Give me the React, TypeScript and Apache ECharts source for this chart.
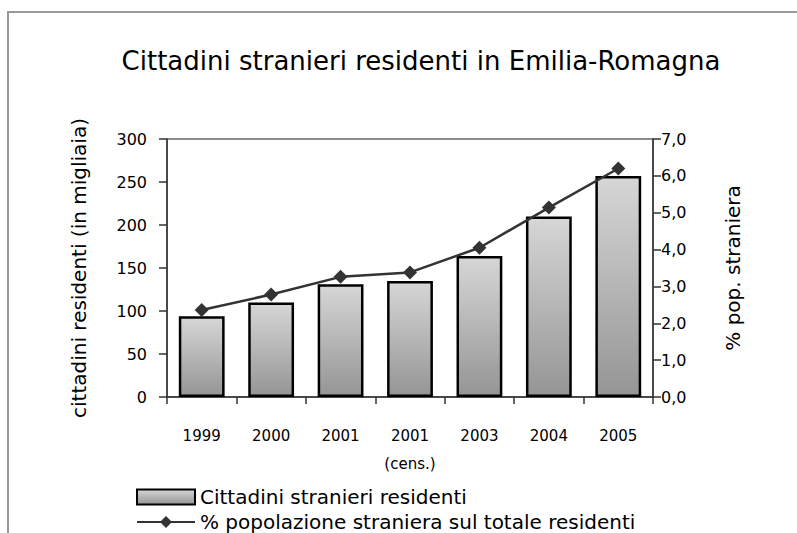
import React, { useEffect, useRef } from "react";
import * as echarts from "echarts";

const categories = ["1999", "2000", "2001", "2001\n(cens.)", "2003", "2004", "2005"];
const residents = [94, 110, 131, 135, 164, 210, 257];
const percent = [2.36, 2.78, 3.26, 3.38, 4.05, 5.14, 6.2];
const leftTicks = { min: 0, max: 300, interval: 50 };
const rightTicks = { min: 0, max: 7, interval: 1 };
const titleText = "Cittadini stranieri residenti in Emilia-Romagna";
const barName = "Cittadini stranieri residenti";
const lineName = "% popolazione straniera sul totale residenti";

const FONT = "DejaVu Sans";

export default function App() {
  const ref = useRef<HTMLDivElement>(null);
  useEffect(() => {
    if (!ref.current) return;
    const chart = echarts.init(ref.current, undefined, { renderer: "svg" });
    const barGradient = new echarts.graphic.LinearGradient(0, 0, 0, 1, [
      { offset: 0, color: "#d6d6d6" },
      { offset: 1, color: "#959595" },
    ]);
    const legendText = { fontFamily: FONT, fontSize: 20, color: "#000" };
    chart.setOption({
      animation: false,
      backgroundColor: "#ffffff",
      textStyle: { fontFamily: FONT, color: "#000" },
      title: {
        text: titleText,
        left: 416,
        textAlign: "center",
        top: 43,
        textStyle: { fontFamily: FONT, fontSize: 26, fontWeight: "normal", color: "#000" },
      },
      graphic: [
        {
          type: "rect",
          shape: { x: 8, y: 12, width: 800, height: 540 },
          style: { fill: "none", stroke: "#9a9a9a", lineWidth: 2 },
          silent: true,
          z: 10,
        },
      ],
      grid: {
        left: 167,
        right: 144,
        top: 139,
        bottom: 136,
        show: true,
        borderColor: "#8c8c8c",
        borderWidth: 2,
        backgroundColor: "transparent",
      },
      legend: [
        {
          orient: "vertical",
          left: 131,
          top: 482,
          itemWidth: 58,
          itemHeight: 15,
          itemGap: 6,
          textStyle: legendText,
          data: [{ name: barName, icon: "rect" }],
        },
        {
          orient: "vertical",
          left: 131,
          top: 507,
          itemWidth: 58,
          itemHeight: 15,
          itemGap: 6,
          textStyle: legendText,
          data: [lineName],
        },
      ],
      xAxis: {
        type: "category",
        data: categories,
        axisLine: { lineStyle: { color: "#333", width: 1.5 } },
        axisTick: { show: true, length: 7, lineStyle: { color: "#333", width: 1.5 } },
        axisLabel: {
          margin: 25,
          fontFamily: FONT,
          fontSize: 15,
          color: "#000",
          lineHeight: 28,
        },
      },
      yAxis: [
        {
          type: "value",
          ...leftTicks,
          position: "left",
          name: "cittadini residenti (in migliaia)",
          nameLocation: "middle",
          nameGap: 78,
          nameTextStyle: { fontFamily: FONT, fontSize: 20, color: "#000" },
          splitLine: { show: false },
          axisLine: { show: true, lineStyle: { color: "#333", width: 1.5 } },
          axisTick: { show: true, length: 8, lineStyle: { color: "#333", width: 1.5 } },
          axisLabel: { margin: 20, fontFamily: FONT, fontSize: 16, color: "#000" },
        },
        {
          type: "value",
          ...rightTicks,
          position: "right",
          name: "% pop. straniera",
          nameLocation: "middle",
          nameGap: 70,
          nameTextStyle: { fontFamily: FONT, fontSize: 20, color: "#000" },
          splitLine: { show: false },
          axisLine: { show: true, lineStyle: { color: "#333", width: 1.5 } },
          axisTick: { show: true, length: 8, lineStyle: { color: "#333", width: 1.5 } },
          axisLabel: {
            margin: 8,
            fontFamily: FONT,
            fontSize: 16,
            color: "#000",
            formatter: (v: number) => v.toFixed(1).replace(".", ","),
          },
        },
      ],
      series: [
        {
          name: barName,
          type: "bar",
          yAxisIndex: 0,
          data: residents,
          barWidth: "66%",
          itemStyle: { color: barGradient, borderColor: "#000", borderWidth: 2.5 },
        },
        {
          name: lineName,
          type: "line",
          yAxisIndex: 1,
          data: percent,
          symbol: "diamond",
          symbolSize: 14,
          lineStyle: { color: "#333", width: 2.5 },
          itemStyle: { color: "#333" },
          z: 5,
        },
      ],
    });
    return () => chart.dispose();
  }, []);
  return (
    <div
      ref={ref}
      style={{ position: "absolute", left: 0, top: 0, width: 797, height: 533 }}
    />
  );
}
